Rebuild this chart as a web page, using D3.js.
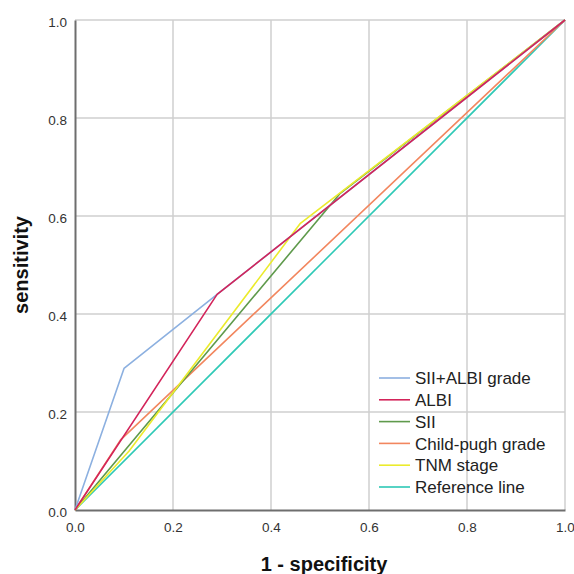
<!DOCTYPE html>
<html>
<head>
<meta charset="utf-8">
<script src="https://cdn.jsdelivr.net/npm/d3@7"></script>
<style>
  html, body { margin: 0; padding: 0; background: #fff; }
  svg { display: block; font-family: "Liberation Sans", Arial, sans-serif; }
</style>
</head>
<body>
<svg id="chart" width="574" height="574"></svg>
<script>
// ROC curves: [1 - specificity, sensitivity]
const seriesNames = ["SII+ALBI grade", "ALBI", "SII", "Child-pugh grade", "TNM stage", "Reference line"];
const seriesColors = ["#8cb0e0", "#d3245a", "#5f9a4c", "#f2865e", "#ebeb2c", "#2ec9b6"];
const siiAlbiPoints = [[0, 0], [0.1, 0.289], [0.29, 0.44], [1, 1]];
const albiPoints = [[0, 0], [0.29, 0.44], [1, 1]];
const siiPoints = [[0, 0], [0.54, 0.645], [1, 1]];
const childPughPoints = [[0, 0], [0.093, 0.143], [1, 1]];
const tnmPoints = [[0, 0], [0.11, 0.12], [0.46, 0.585], [1, 1]];
const referencePoints = [[0, 0], [1, 1]];
const tickValues = [0, 0.2, 0.4, 0.6, 0.8, 1.0];

const allSeries = [siiAlbiPoints, albiPoints, siiPoints, childPughPoints, tnmPoints, referencePoints];

const svg = d3.select("#chart");
const plotLeft = 75, plotRight = 565, plotTop = 20, plotBottom = 510;

const x = d3.scaleLinear().domain([0, 1]).range([plotLeft, plotRight]);
const y = d3.scaleLinear().domain([0, 1]).range([plotBottom, plotTop]);

// grid
const grid = svg.append("g");
grid.selectAll("line.vx").data(tickValues.slice(1)).join("line")
  .attr("class", "vx")
  .attr("x1", d => x(d)).attr("x2", d => x(d))
  .attr("y1", plotTop).attr("y2", plotBottom)
  .attr("stroke", "#cfcfcf").attr("stroke-width", 1.5);
grid.selectAll("line.hy").data(tickValues.slice(1)).join("line")
  .attr("class", "hy")
  .attr("x1", plotLeft).attr("x2", plotRight)
  .attr("y1", d => y(d)).attr("y2", d => y(d))
  .attr("stroke", "#cfcfcf").attr("stroke-width", 1.5);

// axes
const xAxis = d3.axisBottom(x).tickValues(tickValues).tickFormat(d3.format(".1f")).tickSize(0).tickPadding(12);
const yAxis = d3.axisLeft(y).tickValues(tickValues).tickFormat(d3.format(".1f")).tickSize(0).tickPadding(8);

const gx = svg.append("g").attr("transform", `translate(0,${plotBottom})`).call(xAxis);
const gy = svg.append("g").attr("transform", `translate(${plotLeft},0)`).call(yAxis);
[gx, gy].forEach(g => {
  g.select(".domain").attr("stroke", "#6e6e6e").attr("stroke-width", 2);
  g.selectAll("text").attr("fill", "#333").style("font-size", "13.5px")
    .style("font-family", "'Liberation Sans', Arial, sans-serif");
});
gy.selectAll("text").attr("dy", "0.5em");

// curves
const line = d3.line().x(d => x(d[0])).y(d => y(d[1]));
const drawOrder = [5, 3, 2, 4, 0, 1];
drawOrder.forEach(i => {
  svg.append("path")
    .datum(allSeries[i])
    .attr("d", line)
    .attr("fill", "none")
    .attr("stroke", seriesColors[i])
    .attr("stroke-width", 1.6)
    .attr("stroke-linejoin", "round");
});

// legend
const legend = svg.append("g").attr("transform", "translate(379,378)");
seriesNames.forEach((name, i) => {
  const row = legend.append("g").attr("transform", `translate(0,${i * 21.8})`);
  row.append("line").attr("x1", 0).attr("x2", 31).attr("y1", 0).attr("y2", 0)
    .attr("stroke", seriesColors[i]).attr("stroke-width", 1.6);
  row.append("text").attr("x", 36).attr("y", 0).attr("dy", "0.36em")
    .attr("fill", "#222").style("font-size", "17px").text(name);
});

// axis titles
svg.append("text")
  .attr("x", 324).attr("y", 571)
  .attr("text-anchor", "middle")
  .style("font-size", "20px").style("font-weight", "bold").attr("fill", "#111")
  .text("1 - specificity");

svg.append("text")
  .attr("transform", `translate(21,${(plotTop + plotBottom) / 2}) rotate(-90)`)
  .attr("text-anchor", "middle").attr("dy", "0.35em")
  .style("font-size", "20px").style("font-weight", "bold").attr("fill", "#111")
  .text("sensitivity");
</script>
</body>
</html>
